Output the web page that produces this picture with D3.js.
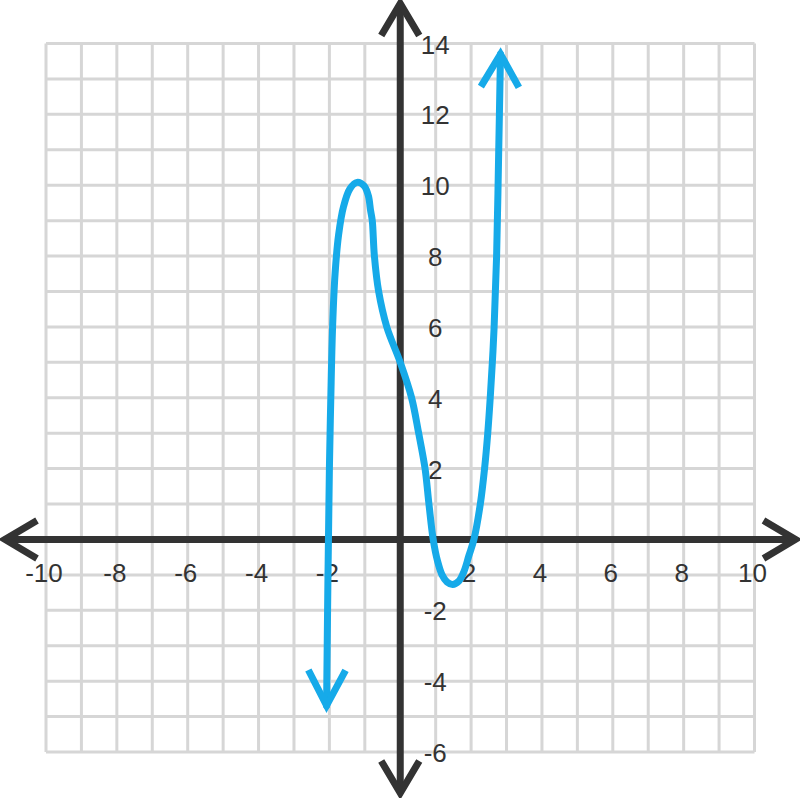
<!DOCTYPE html>
<html>
<head>
<meta charset="utf-8">
<script src="https://cdn.jsdelivr.net/npm/d3@7"></script>
<style>
  html, body { margin: 0; padding: 0; background: #ffffff; }
  svg { display: block; }
</style>
</head>
<body>
<svg id="chart" width="800" height="798"></svg>
<script>
// ---- data ----
const xDomain = [-10, 10];
const yDomain = [-6, 14];
const xTickLabels = [-10, -8, -6, -4, -2, 2, 4, 6, 8, 10];
const yTickLabels = [-6, -4, -2, 2, 4, 6, 8, 10, 12, 14];
const curveX = [-2.08, -2.04, -2.0, -1.96, -1.91, -1.84, -1.74, -1.6, -1.42, -1.22, -1.02, -0.9, -0.84, -0.79, -0.73, -0.61, -0.38, 0.0, 0.32, 0.52, 0.7, 0.81, 0.93, 1.05, 1.18, 1.32, 1.48, 1.65, 1.8, 1.94, 2.08, 2.26, 2.38, 2.47, 2.54, 2.6, 2.65, 2.72, 2.78, 2.83];
const curveY = [-4.69, -1.0, 2.0, 4.0, 6.0, 7.5, 8.6, 9.4, 9.9, 10.08, 9.98, 9.7, 9.3, 9.0, 8.0, 7.0, 6.0, 5.0, 4.0, 3.0, 2.0, 1.0, 0.0, -0.6, -1.0, -1.2, -1.27, -1.18, -0.9, -0.45, 0.0, 1.0, 2.0, 3.0, 4.0, 5.0, 6.0, 8.0, 11.0, 13.7];

// ---- layout ----
const svg = d3.select("#chart");
const x = d3.scaleLinear().domain(xDomain).range([46, 754.5]);
const y = d3.scaleLinear().domain(yDomain).range([752, 43.5]);

const gridColor = "#d6d6d6";
const axisColor = "#333333";
const curveColor = "#16aae9";

// grid
const gGrid = svg.append("g");
d3.range(xDomain[0], xDomain[1] + 1).forEach(v => {
  gGrid.append("line")
    .attr("x1", x(v)).attr("x2", x(v))
    .attr("y1", y(yDomain[0])).attr("y2", y(yDomain[1]))
    .attr("stroke", gridColor).attr("stroke-width", 3);
});
d3.range(yDomain[0], yDomain[1] + 1).forEach(v => {
  gGrid.append("line")
    .attr("y1", y(v)).attr("y2", y(v))
    .attr("x1", x(xDomain[0])).attr("x2", x(xDomain[1]))
    .attr("stroke", gridColor).attr("stroke-width", 3);
});

// axes with chevron arrows
const gAxis = svg.append("g").attr("stroke", axisColor).attr("stroke-width", 7)
  .attr("fill", "none").attr("stroke-linecap", "butt").attr("stroke-linejoin", "miter");
const x0 = x(0), y0 = y(0);
const xl = x(xDomain[0]) - 42, xr = x(xDomain[1]) + 42;
const yt = y(yDomain[1]) - 41, yb = y(yDomain[0]) + 42;
gAxis.append("line").attr("x1", xl + 2).attr("x2", xr - 2).attr("y1", y0).attr("y2", y0);
gAxis.append("line").attr("y1", yt + 2).attr("y2", yb - 2).attr("x1", x0).attr("x2", x0);
const ah = 33, aw = 19;
gAxis.append("path").attr("d", `M${xl + ah},${y0 - aw}L${xl + 1},${y0}L${xl + ah},${y0 + aw}`);
gAxis.append("path").attr("d", `M${xr - ah},${y0 - aw}L${xr - 1},${y0}L${xr - ah},${y0 + aw}`);
gAxis.append("path").attr("d", `M${x0 - aw},${yt + ah}L${x0},${yt + 1}L${x0 + aw},${yt + ah}`);
gAxis.append("path").attr("d", `M${x0 - aw},${yb - ah}L${x0},${yb - 1}L${x0 + aw},${yb - ah}`);

// tick labels
const font = "'Liberation Sans', Arial, sans-serif";
svg.append("g").selectAll("text").data(xTickLabels).join("text")
  .attr("x", d => x(d) - 2).attr("y", y0 + 43)
  .attr("text-anchor", "middle")
  .attr("font-family", font).attr("font-size", 26).attr("fill", axisColor)
  .text(d => d);
svg.append("g").selectAll("text").data(yTickLabels).join("text")
  .attr("x", x0 + 35).attr("y", d => y(d) + 10)
  .attr("text-anchor", "middle")
  .attr("font-family", font).attr("font-size", 26).attr("fill", axisColor)
  .text(d => d);

// curve
const pts = curveX.map((v, i) => [x(v), y(curveY[i])]);
const line = d3.line().curve(d3.curveCatmullRom.alpha(0.5));
const gCurve = svg.append("g").attr("stroke", curveColor).attr("fill", "none")
  .attr("stroke-width", 7).attr("stroke-linecap", "round").attr("stroke-linejoin", "miter");
gCurve.append("path").attr("d", line(pts));

// curve arrowheads
function arrowHead(tip, prev, len, ang) {
  const dir = Math.atan2(prev[1] - tip[1], prev[0] - tip[0]);
  const a1 = dir + ang, a2 = dir - ang;
  const p1 = [tip[0] + len * Math.cos(a1), tip[1] + len * Math.sin(a1)];
  const p2 = [tip[0] + len * Math.cos(a2), tip[1] + len * Math.sin(a2)];
  gCurve.append("path").attr("stroke-linecap", "butt")
    .attr("d", `M${p1[0]},${p1[1]}L${tip[0]},${tip[1]}L${p2[0]},${p2[1]}`);
}
arrowHead(pts[pts.length - 1], pts[pts.length - 2], 38, Math.PI / 6);
arrowHead(pts[0], pts[1], 40, Math.PI / 6.5);
</script>
</body>
</html>
